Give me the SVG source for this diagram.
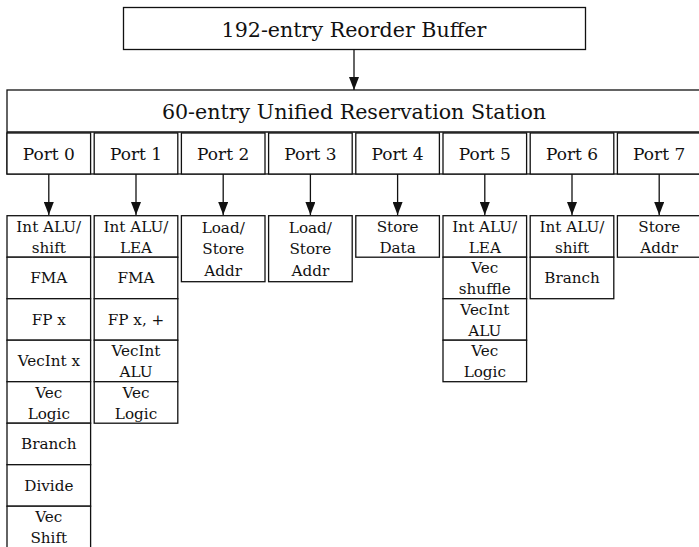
<svg xmlns="http://www.w3.org/2000/svg" width="699" height="547" viewBox="0 0 699 547">
<style>
rect{fill:#fff;stroke:#111;stroke-width:1.3}
text{font-family:"DejaVu Serif","Liberation Serif",serif;fill:#111;text-anchor:middle}
.t{font-size:20.6px}
.p{font-size:17px}
.u{font-size:15.2px}
.c{stroke:#111;stroke-width:1.3;fill:none}
</style>
<defs>
<marker id="ah" markerWidth="13" markerHeight="10" refX="13" refY="5" orient="auto" markerUnits="userSpaceOnUse" viewBox="0 0 13 10">
<path d="M0,0 L13,5 L0,10 Z" fill="#111"/>
</marker>
</defs>
<rect width="699" height="547" style="fill:#fff;stroke:none"/>
<g id="rob"><rect x="123.5" y="7.5" width="462" height="42"/><text class="t" x="354" y="36.5">192-entry Reorder Buffer</text></g>
<g id="rs"><rect x="7" y="90" width="694" height="84"/><line x1="7" y1="132" x2="701" y2="132" class="c"/><text class="t" x="354" y="119">60-entry Unified Reservation Station</text></g>
<g id="port0"><rect x="7" y="133" width="83.6" height="41"/><text class="p" x="48.8" y="160">Port 0</text></g>
<g id="port1"><rect x="94.2" y="133" width="83.6" height="41"/><text class="p" x="136" y="160">Port 1</text></g>
<g id="port2"><rect x="181.4" y="133" width="83.6" height="41"/><text class="p" x="223.2" y="160">Port 2</text></g>
<g id="port3"><rect x="268.6" y="133" width="83.6" height="41"/><text class="p" x="310.4" y="160">Port 3</text></g>
<g id="port4"><rect x="355.8" y="133" width="83.6" height="41"/><text class="p" x="397.6" y="160">Port 4</text></g>
<g id="port5"><rect x="443" y="133" width="83.6" height="41"/><text class="p" x="484.8" y="160">Port 5</text></g>
<g id="port6"><rect x="530.2" y="133" width="83.6" height="41"/><text class="p" x="572" y="160">Port 6</text></g>
<g id="port7"><rect x="617.4" y="133" width="83.6" height="41"/><text class="p" x="659.2" y="160">Port 7</text></g>
<g id="connectors">
<line class="c" x1="354" y1="49.5" x2="354" y2="90" marker-end="url(#ah)"/>
<line class="c" x1="48.8" y1="174" x2="48.8" y2="215" marker-end="url(#ah)"/>
<line class="c" x1="136" y1="174" x2="136" y2="215" marker-end="url(#ah)"/>
<line class="c" x1="223.2" y1="174" x2="223.2" y2="215" marker-end="url(#ah)"/>
<line class="c" x1="310.4" y1="174" x2="310.4" y2="215" marker-end="url(#ah)"/>
<line class="c" x1="397.6" y1="174" x2="397.6" y2="215" marker-end="url(#ah)"/>
<line class="c" x1="484.8" y1="174" x2="484.8" y2="215" marker-end="url(#ah)"/>
<line class="c" x1="572" y1="174" x2="572" y2="215" marker-end="url(#ah)"/>
<line class="c" x1="659.2" y1="174" x2="659.2" y2="215" marker-end="url(#ah)"/>
</g>
<g id="units0">
<rect x="7" y="215.7" width="83.6" height="41.5"/><text class="u" x="48.8" y="232.3">Int ALU/</text><text class="u" x="48.8" y="253.3">shift</text>
<rect x="7" y="257.2" width="83.6" height="41.5"/><text class="u" x="48.8" y="283.3">FMA</text>
<rect x="7" y="298.7" width="83.6" height="41.5"/><text class="u" x="48.8" y="324.8">FP x</text>
<rect x="7" y="340.2" width="83.6" height="41.5"/><text class="u" x="48.8" y="366.3">VecInt x</text>
<rect x="7" y="381.7" width="83.6" height="41.5"/><text class="u" x="48.8" y="397.5">Vec</text><text class="u" x="48.8" y="418.5">Logic</text>
<rect x="7" y="423.2" width="83.6" height="41.5"/><text class="u" x="48.8" y="449.3">Branch</text>
<rect x="7" y="464.7" width="83.6" height="41.5"/><text class="u" x="48.8" y="490.8">Divide</text>
<rect x="7" y="506.2" width="83.6" height="41.5"/><text class="u" x="48.8" y="522">Vec</text><text class="u" x="48.8" y="543">Shift</text>
</g>
<g id="units1">
<rect x="94.2" y="215.7" width="83.6" height="41.5"/><text class="u" x="136" y="232.3">Int ALU/</text><text class="u" x="136" y="253.3">LEA</text>
<rect x="94.2" y="257.2" width="83.6" height="41.5"/><text class="u" x="136" y="283.3">FMA</text>
<rect x="94.2" y="298.7" width="83.6" height="41.5"/><text class="u" x="136" y="324.8">FP x, +</text>
<rect x="94.2" y="340.2" width="83.6" height="41.5"/><text class="u" x="136" y="356">VecInt</text><text class="u" x="136" y="377">ALU</text>
<rect x="94.2" y="381.7" width="83.6" height="41.5"/><text class="u" x="136" y="397.5">Vec</text><text class="u" x="136" y="418.5">Logic</text>
</g>
<g id="units2">
<rect x="181.4" y="215.7" width="83.6" height="66"/><text class="u" x="223.2" y="232.7">Load/</text><text class="u" x="223.2" y="254.2">Store</text><text class="u" x="223.2" y="275.7">Addr</text>
</g>
<g id="units3">
<rect x="268.6" y="215.7" width="83.6" height="66"/><text class="u" x="310.4" y="232.7">Load/</text><text class="u" x="310.4" y="254.2">Store</text><text class="u" x="310.4" y="275.7">Addr</text>
</g>
<g id="units4">
<rect x="355.8" y="215.7" width="83.6" height="41.5"/><text class="u" x="397.6" y="232.3">Store</text><text class="u" x="397.6" y="253.3">Data</text>
</g>
<g id="units5">
<rect x="443" y="215.7" width="83.6" height="41.5"/><text class="u" x="484.8" y="232.3">Int ALU/</text><text class="u" x="484.8" y="253.3">LEA</text>
<rect x="443" y="257.2" width="83.6" height="41.5"/><text class="u" x="484.8" y="273.3">Vec</text><text class="u" x="484.8" y="294.3">shuffle</text>
<rect x="443" y="298.7" width="83.6" height="41.5"/><text class="u" x="484.8" y="314.5">VecInt</text><text class="u" x="484.8" y="335.5">ALU</text>
<rect x="443" y="340.2" width="83.6" height="41.5"/><text class="u" x="484.8" y="356">Vec</text><text class="u" x="484.8" y="377">Logic</text>
</g>
<g id="units6">
<rect x="530.2" y="215.7" width="83.6" height="41.5"/><text class="u" x="572" y="232.3">Int ALU/</text><text class="u" x="572" y="253.3">shift</text>
<rect x="530.2" y="257.2" width="83.6" height="41.5"/><text class="u" x="572" y="283.3">Branch</text>
</g>
<g id="units7">
<rect x="617.4" y="215.7" width="83.6" height="41.5"/><text class="u" x="659.2" y="232.3">Store</text><text class="u" x="659.2" y="253.3">Addr</text>
</g>
</svg>
